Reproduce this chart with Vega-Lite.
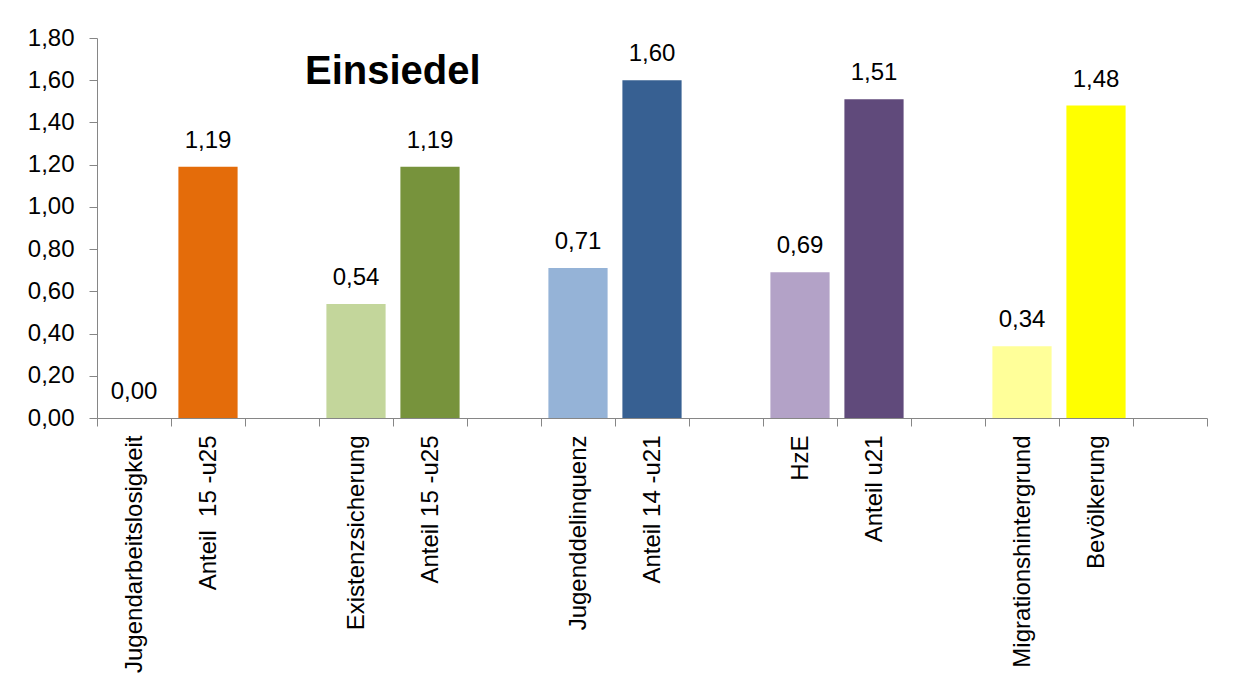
{
  "$schema": "https://vega.github.io/schema/vega-lite/v6.json",
  "autosize": {"type": "none"},
  "width": 1110,
  "height": 380,
  "padding": {"left": 97, "top": 38, "right": 27, "bottom": 282},
  "background": "white",
  "title": {
    "text": "Einsiedel",
    "anchor": "start",
    "frame": "group",
    "orient": "top",
    "font": "Liberation Sans",
    "fontSize": 40,
    "fontWeight": "bold",
    "color": "black",
    "baseline": "alphabetic",
    "offset": 0,
    "dx": 208,
    "dy": 98
  },
  "config": {
    "locale": {"number": {"decimal": ",", "thousands": ".", "grouping": [3], "currency": ["", " €"]}},
    "view": {"stroke": null},
    "font": "Liberation Sans",
    "axis": {
      "domainColor": "#868686",
      "tickColor": "#868686",
      "labelColor": "black",
      "labelFont": "Liberation Sans",
      "labelFontSize": 24,
      "labelLimit": 400,
      "tickSize": 8,
      "grid": false,
      "title": null
    }
  },
  "data": {
    "values": [
      {"kategorie": "Jugendarbeitslosigkeit", "wert": 0.00},
      {"kategorie": "Anteil\u00a0 15 -u25", "wert": 1.19},
      {"kategorie": "Existenzsicherung", "wert": 0.54},
      {"kategorie": "Anteil 15 -u25", "wert": 1.19},
      {"kategorie": "Jugenddelinquenz", "wert": 0.71},
      {"kategorie": "Anteil 14 -u21", "wert": 1.60},
      {"kategorie": "HzE", "wert": 0.69},
      {"kategorie": "Anteil u21", "wert": 1.51},
      {"kategorie": "Migrationshintergrund", "wert": 0.34},
      {"kategorie": "Bevölkerung", "wert": 1.48}
    ]
  },
  "encoding": {
    "x": {
      "field": "kategorie",
      "type": "nominal",
      "sort": null,
      "scale": {
        "domain": ["Jugendarbeitslosigkeit", "Anteil\u00a0 15 -u25", " ", "Existenzsicherung", "Anteil 15 -u25", "  ", "Jugenddelinquenz", "Anteil 14 -u21", "   ", "HzE", "Anteil u21", "    ", "Migrationshintergrund", "Bevölkerung", "     "],
        "paddingInner": 0,
        "paddingOuter": 0
      },
      "axis": {
        "labelAngle": -90,
        "labelPadding": 9,
        "tickBand": "extent"
      }
    },
    "y": {
      "field": "wert",
      "type": "quantitative",
      "scale": {"domain": [0, 1.8], "nice": false},
      "axis": {
        "values": [0, 0.2, 0.4, 0.6, 0.8, 1.0, 1.2, 1.4, 1.6, 1.8],
        "format": ".2f",
        "labelPadding": 15
      }
    }
  },
  "layer": [
    {
      "mark": {"type": "bar", "width": {"band": 0.8}},
      "encoding": {
        "color": {
          "field": "kategorie",
          "type": "nominal",
          "legend": null,
          "scale": {
            "domain": ["Jugendarbeitslosigkeit", "Anteil\u00a0 15 -u25", "Existenzsicherung", "Anteil 15 -u25", "Jugenddelinquenz", "Anteil 14 -u21", "HzE", "Anteil u21", "Migrationshintergrund", "Bevölkerung"],
            "range": ["#D99694", "#E46C0A", "#C3D69B", "#77933C", "#95B3D7", "#376092", "#B3A2C7", "#604A7B", "#FFFF99", "#FFFF00"]
          }
        }
      }
    },
    {
      "mark": {"type": "text", "baseline": "alphabetic", "dy": -19, "fontSize": 24, "color": "black", "font": "Liberation Sans"},
      "encoding": {
        "text": {"field": "wert", "type": "quantitative", "format": ".2f"}
      }
    }
  ]
}
